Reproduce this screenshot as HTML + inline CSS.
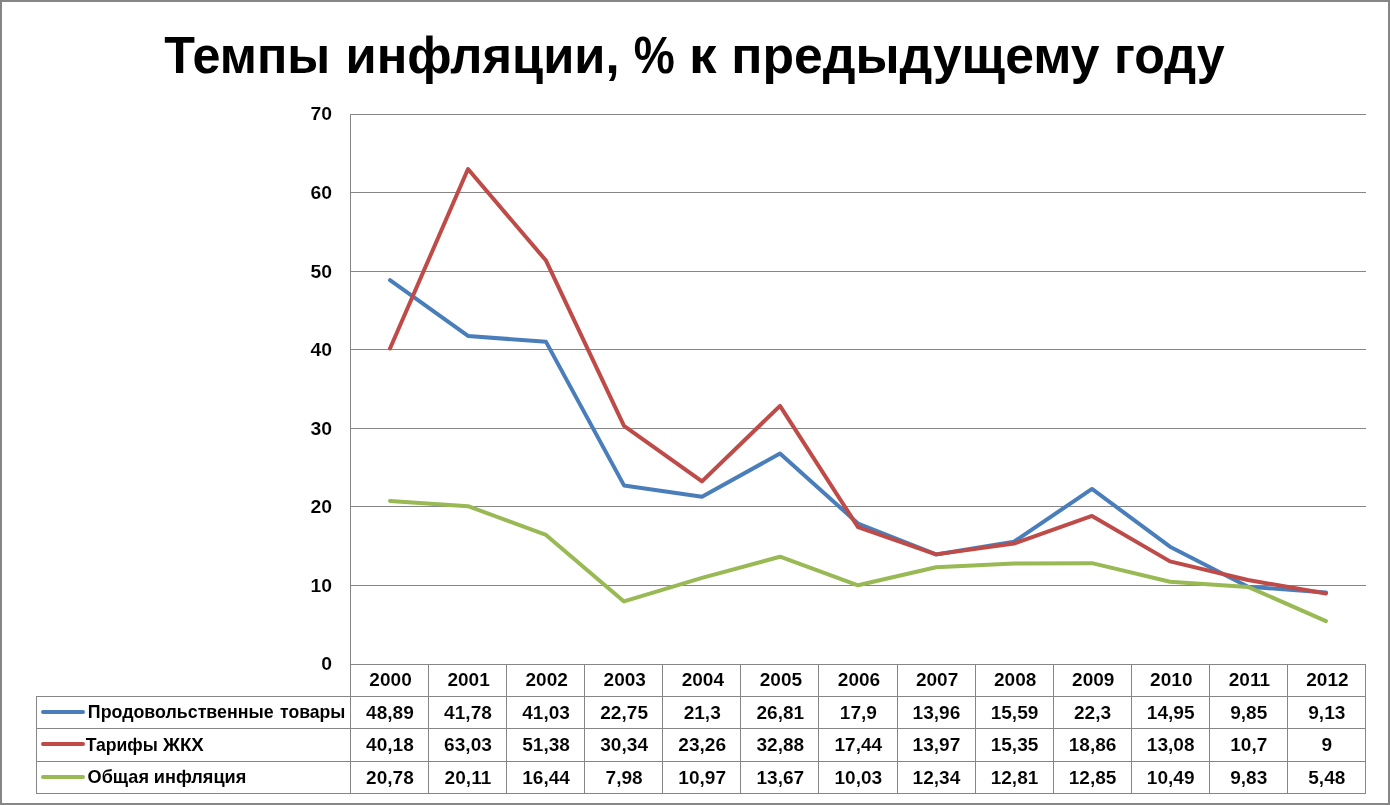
<!DOCTYPE html>
<html lang="ru">
<head>
<meta charset="utf-8">
<title>Темпы инфляции, % к предыдущему году</title>
<style>
html,body{margin:0;padding:0;background:#fff;}
body{width:1390px;height:805px;overflow:hidden;}
svg{display:block;font-family:"Liberation Sans",Arial,Helvetica,sans-serif;font-weight:bold;fill:#000;}
.g{stroke:#868686;stroke-width:1;fill:none;shape-rendering:crispEdges;}
.s{fill:none;stroke-width:4;stroke-linejoin:round;stroke-linecap:round;}
.n{font-size:18.3px;text-anchor:middle;stroke:#fff;stroke-width:0.1px;paint-order:normal;}
.a{font-size:18.3px;text-anchor:end;stroke:#fff;stroke-width:0.1px;paint-order:normal;}
.l{font-size:17.9px;text-anchor:start;}
.t{font-size:52.5px;text-anchor:start;}
</style>
</head>
<body>
<svg width="1390" height="805" viewBox="0 0 1390 805">
<rect x="0" y="0" width="1390" height="805" fill="#ffffff"/>
<rect x="1" y="1" width="1388" height="803" fill="none" stroke="#868686" stroke-width="2" shape-rendering="crispEdges"/>
<g class="g">
<line x1="350" y1="114.5" x2="1366" y2="114.5"/>
<line x1="350" y1="192.5" x2="1366" y2="192.5"/>
<line x1="350" y1="271.5" x2="1366" y2="271.5"/>
<line x1="350" y1="349.5" x2="1366" y2="349.5"/>
<line x1="350" y1="428.5" x2="1366" y2="428.5"/>
<line x1="350" y1="506.5" x2="1366" y2="506.5"/>
<line x1="350" y1="585.5" x2="1366" y2="585.5"/>
<line x1="350" y1="664.5" x2="1366" y2="664.5"/>
<line x1="36" y1="696.5" x2="1366" y2="696.5"/>
<line x1="36" y1="728.5" x2="1366" y2="728.5"/>
<line x1="36" y1="761.5" x2="1366" y2="761.5"/>
<line x1="36" y1="793.5" x2="1366" y2="793.5"/>
<line x1="350.5" y1="114" x2="350.5" y2="794"/>
<line x1="428.5" y1="664" x2="428.5" y2="794"/>
<line x1="506.5" y1="664" x2="506.5" y2="794"/>
<line x1="584.5" y1="664" x2="584.5" y2="794"/>
<line x1="662.5" y1="664" x2="662.5" y2="794"/>
<line x1="740.5" y1="664" x2="740.5" y2="794"/>
<line x1="818.5" y1="664" x2="818.5" y2="794"/>
<line x1="897.5" y1="664" x2="897.5" y2="794"/>
<line x1="975.5" y1="664" x2="975.5" y2="794"/>
<line x1="1053.5" y1="664" x2="1053.5" y2="794"/>
<line x1="1131.5" y1="664" x2="1131.5" y2="794"/>
<line x1="1209.5" y1="664" x2="1209.5" y2="794"/>
<line x1="1287.5" y1="664" x2="1287.5" y2="794"/>
<line x1="1365.5" y1="664" x2="1365.5" y2="794"/>
<line x1="36.5" y1="696" x2="36.5" y2="794"/>
</g>
<polyline class="s" stroke="#4a7ebb" points="390,280.1 468,335.95 546,341.84 624,485.42 702,496.8 780,453.53 858,523.51 936,554.45 1014,541.65 1092,488.95 1170,546.68 1248,586.74 1326,592.39"/>
<polyline class="s" stroke="#be4b48" points="390,348.51 468,169.04 546,260.55 624,425.8 702,481.41 780,405.85 858,527.12 936,554.38 1014,543.54 1092,515.97 1170,561.37 1248,580.06 1326,593.41"/>
<polyline class="s" stroke="#98b954" points="390,500.89 468,506.15 546,534.98 624,601.42 702,577.94 780,556.73 858,585.32 936,567.18 1014,563.49 1092,563.17 1170,581.71 1248,586.89 1326,621.06"/>
<line class="s" stroke="#4a7ebb" x1="43" y1="712" x2="83" y2="712"/>
<line class="s" stroke="#be4b48" x1="43" y1="744" x2="83" y2="744"/>
<line class="s" stroke="#98b954" x1="43" y1="777" x2="83" y2="777"/>
<text class="t" y="72.9"><tspan x="164.34" textLength="165.92" lengthAdjust="spacingAndGlyphs">Темпы</tspan> <tspan x="345.52" textLength="274.05" lengthAdjust="spacingAndGlyphs">инфляции,</tspan> <tspan x="633.85" textLength="41.08" lengthAdjust="spacingAndGlyphs">%</tspan> <tspan x="689.01" textLength="27.57" lengthAdjust="spacingAndGlyphs">к</tspan> <tspan x="731.26" textLength="368.13" lengthAdjust="spacingAndGlyphs">предыдущему</tspan> <tspan x="1114.1" textLength="110.59" lengthAdjust="spacingAndGlyphs">году</tspan></text>
<text class="a" transform="translate(332 119.9) scale(1.06 1)">70</text>
<text class="a" transform="translate(332 198.9) scale(1.06 1)">60</text>
<text class="a" transform="translate(332 277.9) scale(1.06 1)">50</text>
<text class="a" transform="translate(332 355.9) scale(1.06 1)">40</text>
<text class="a" transform="translate(332 434.9) scale(1.06 1)">30</text>
<text class="a" transform="translate(332 512.9) scale(1.06 1)">20</text>
<text class="a" transform="translate(332 591.9) scale(1.06 1)">10</text>
<text class="a" transform="translate(332 669.9) scale(1.06 1)">0</text>
<text class="n" transform="translate(390.54 686) scale(1.042 1)">2000</text>
<text class="n" transform="translate(468.62 686) scale(1.042 1)">2001</text>
<text class="n" transform="translate(546.69 686) scale(1.042 1)">2002</text>
<text class="n" transform="translate(624.77 686) scale(1.042 1)">2003</text>
<text class="n" transform="translate(702.85 686) scale(1.042 1)">2004</text>
<text class="n" transform="translate(780.92 686) scale(1.042 1)">2005</text>
<text class="n" transform="translate(859 686) scale(1.042 1)">2006</text>
<text class="n" transform="translate(937.08 686) scale(1.042 1)">2007</text>
<text class="n" transform="translate(1015.15 686) scale(1.042 1)">2008</text>
<text class="n" transform="translate(1093.23 686) scale(1.042 1)">2009</text>
<text class="n" transform="translate(1171.31 686) scale(1.042 1)">2010</text>
<text class="n" transform="translate(1249.38 686) scale(1.042 1)">2011</text>
<text class="n" transform="translate(1327.46 686) scale(1.042 1)">2012</text>
<text class="n" transform="translate(389.89 718.6) scale(1.044 1)">48,89</text>
<text class="n" transform="translate(467.97 718.6) scale(1.044 1)">41,78</text>
<text class="n" transform="translate(546.04 718.6) scale(1.044 1)">41,03</text>
<text class="n" transform="translate(624.12 718.6) scale(1.044 1)">22,75</text>
<text class="n" transform="translate(702.2 718.6) scale(1.044 1)">21,3</text>
<text class="n" transform="translate(780.27 718.6) scale(1.044 1)">26,81</text>
<text class="n" transform="translate(858.35 718.6) scale(1.044 1)">17,9</text>
<text class="n" transform="translate(936.43 718.6) scale(1.044 1)">13,96</text>
<text class="n" transform="translate(1014.5 718.6) scale(1.044 1)">15,59</text>
<text class="n" transform="translate(1092.58 718.6) scale(1.044 1)">22,3</text>
<text class="n" transform="translate(1170.66 718.6) scale(1.044 1)">14,95</text>
<text class="n" transform="translate(1248.73 718.6) scale(1.044 1)">9,85</text>
<text class="n" transform="translate(1326.81 718.6) scale(1.044 1)">9,13</text>
<text class="n" transform="translate(389.89 751) scale(1.044 1)">40,18</text>
<text class="n" transform="translate(467.97 751) scale(1.044 1)">63,03</text>
<text class="n" transform="translate(546.04 751) scale(1.044 1)">51,38</text>
<text class="n" transform="translate(624.12 751) scale(1.044 1)">30,34</text>
<text class="n" transform="translate(702.2 751) scale(1.044 1)">23,26</text>
<text class="n" transform="translate(780.27 751) scale(1.044 1)">32,88</text>
<text class="n" transform="translate(858.35 751) scale(1.044 1)">17,44</text>
<text class="n" transform="translate(936.43 751) scale(1.044 1)">13,97</text>
<text class="n" transform="translate(1014.5 751) scale(1.044 1)">15,35</text>
<text class="n" transform="translate(1092.58 751) scale(1.044 1)">18,86</text>
<text class="n" transform="translate(1170.66 751) scale(1.044 1)">13,08</text>
<text class="n" transform="translate(1248.73 751) scale(1.044 1)">10,7</text>
<text class="n" transform="translate(1326.81 751) scale(1.044 1)">9</text>
<text class="n" transform="translate(389.89 783.6) scale(1.044 1)">20,78</text>
<text class="n" transform="translate(467.97 783.6) scale(1.044 1)">20,11</text>
<text class="n" transform="translate(546.04 783.6) scale(1.044 1)">16,44</text>
<text class="n" transform="translate(624.12 783.6) scale(1.044 1)">7,98</text>
<text class="n" transform="translate(702.2 783.6) scale(1.044 1)">10,97</text>
<text class="n" transform="translate(780.27 783.6) scale(1.044 1)">13,67</text>
<text class="n" transform="translate(858.35 783.6) scale(1.044 1)">10,03</text>
<text class="n" transform="translate(936.43 783.6) scale(1.044 1)">12,34</text>
<text class="n" transform="translate(1014.5 783.6) scale(1.044 1)">12,81</text>
<text class="n" transform="translate(1092.58 783.6) scale(1.044 1)">12,85</text>
<text class="n" transform="translate(1170.66 783.6) scale(1.044 1)">10,49</text>
<text class="n" transform="translate(1248.73 783.6) scale(1.044 1)">9,83</text>
<text class="n" transform="translate(1326.81 783.6) scale(1.044 1)">5,48</text>
<text class="l" y="718.3"><tspan x="87.85" textLength="185.74" lengthAdjust="spacingAndGlyphs">Продовольственные</tspan> <tspan x="280.07" textLength="65.33" lengthAdjust="spacingAndGlyphs">товары</tspan></text>
<text class="l" y="751"><tspan x="85.65" textLength="72.11" lengthAdjust="spacingAndGlyphs">Тарифы</tspan> <tspan x="163.03" textLength="40.71" lengthAdjust="spacingAndGlyphs">ЖКХ</tspan></text>
<text class="l" y="783.3"><tspan x="87.55" textLength="61.4" lengthAdjust="spacingAndGlyphs">Общая</tspan> <tspan x="153.85" textLength="92.49" lengthAdjust="spacingAndGlyphs">инфляция</tspan></text>
</svg>
</body>
</html>
